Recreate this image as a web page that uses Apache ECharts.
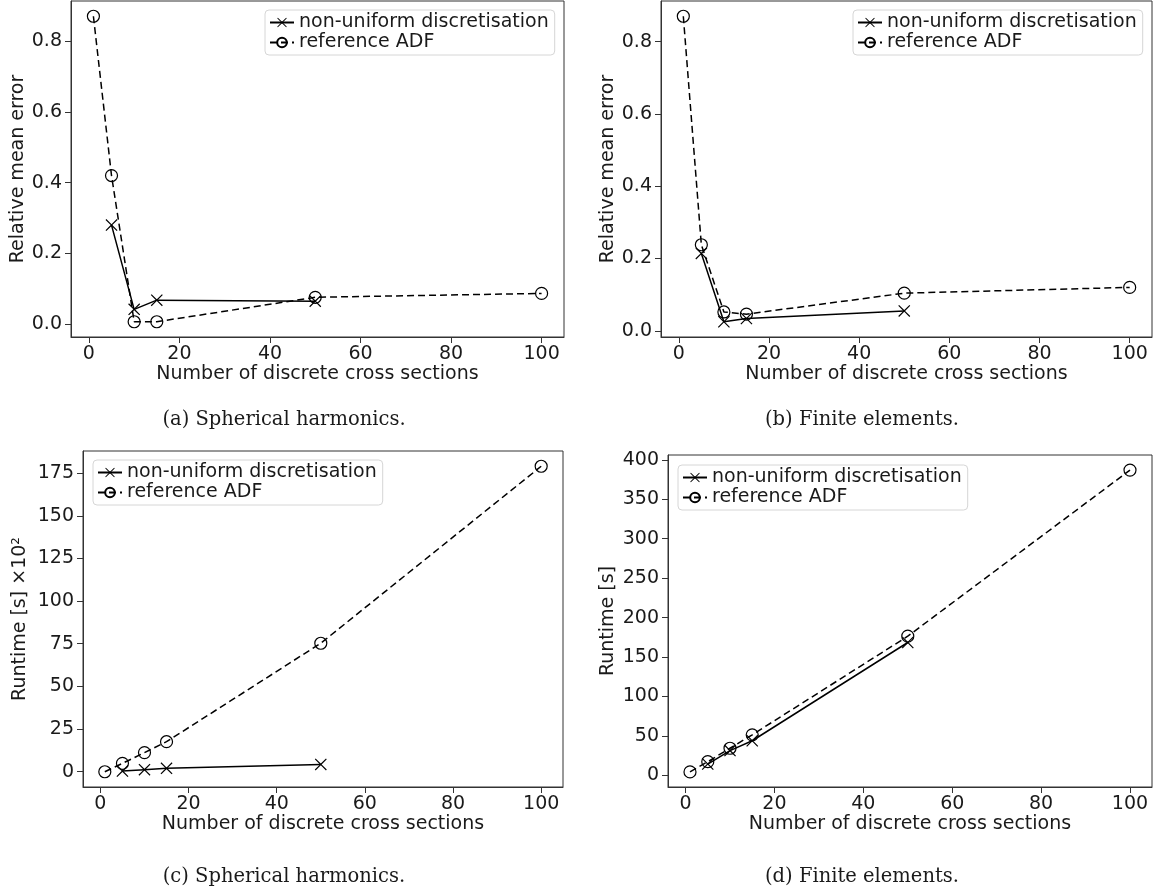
<!DOCTYPE html>
<html>
<head>
<meta charset="utf-8">
<script src="https://cdn.jsdelivr.net/npm/echarts@6/dist/echarts.min.js"></script>
<style>html,body{margin:0;padding:0;background:#fff;}#c{width:1156px;height:891px;}</style>
</head>
<body>
<div id="c"></div>
<script>
// ---- data ----
const xNonUniform = [5, 10, 15, 50];
const xReference = [1, 5, 10, 15, 50, 100];

const errShNonUniform = [0.28, 0.042, 0.068, 0.065];
const errShReference = [0.87, 0.42, 0.007, 0.007, 0.076, 0.087];

const errFeNonUniform = [0.214, 0.025, 0.034, 0.055];
const errFeReference = [0.87, 0.238, 0.052, 0.046, 0.104, 0.12];

const rtShNonUniform = [0.4, 1.2, 2.0, 4.3];
const rtShReference = [0.0, 4.9, 11.2, 17.6, 75.3, 179];

const rtFeNonUniform = [14.5, 31.5, 44, 168.5];
const rtFeReference = [4.5, 17.5, 34.5, 51.5, 176.5, 387];

const xTicks = [0, 20, 40, 60, 80, 100];
const errTicks = [0.0, 0.2, 0.4, 0.6, 0.8];
const rtShTicks = [0, 25, 50, 75, 100, 125, 150, 175];
const rtFeTicks = [0, 50, 100, 150, 200, 250, 300, 350, 400];

const seriesNames = ['non-uniform discretisation', 'reference ADF'];
const xAxisName = 'Number of discrete cross sections';
const captions = ['(a) Spherical harmonics.', '(b) Finite elements.', '(c) Spherical harmonics.', '(d) Finite elements.'];
const yNames = ['Relative mean error', 'Relative mean error', 'Runtime [s] ×10²', 'Runtime [s]'];

// ---- helpers ----
const FONT = 'DejaVu Sans';
const FS = 19;
const TXT = '#1a1a1a';
const FRAME = '#333';
const X_PATH = 'path://M0,7 L7,0 L50,43 L93,0 L100,7 L57,50 L100,93 L93,100 L50,57 L7,100 L0,93 L43,50 Z';

function pairs(xs, ys) { return xs.map((x, i) => [x, ys[i]]); }
function autoRange(arrs) {
  const all = [].concat(...arrs);
  const mn = Math.min(...all), mx = Math.max(...all);
  const m = (mx - mn) * 0.05;
  return [mn - m, mx + m];
}

const panels = [
  { grid: {left: 71, top: 1, width: 493, height: 336}, nu: errShNonUniform, ref: errShReference, ticks: errTicks, dec: 1, yGap: 43, legend: {left: 265, top: 10} },
  { grid: {left: 661, top: 1, width: 491, height: 336}, nu: errFeNonUniform, ref: errFeReference, ticks: errTicks, dec: 1, yGap: 43, legend: {left: 853, top: 10} },
  { grid: {left: 83, top: 451, width: 480, height: 336}, nu: rtShNonUniform, ref: rtShReference, ticks: rtShTicks, dec: 0, yGap: 53, legend: {left: 93, top: 460} },
  { grid: {left: 668, top: 455, width: 484, height: 332}, nu: rtFeNonUniform, ref: rtFeReference, ticks: rtFeTicks, dec: 0, yGap: 50, legend: {left: 678, top: 465} }
];

const xr = autoRange([xNonUniform, xReference]);
const option = { animation: false, backgroundColor: '#fff', grid: [], xAxis: [], yAxis: [], series: [], legend: [], graphic: [] };

panels.forEach((p, i) => {
  option.grid.push(Object.assign({ show: true, borderColor: FRAME, borderWidth: 1, backgroundColor: 'transparent', containLabel: false }, p.grid));
  option.xAxis.push({
    type: 'value', gridIndex: i, min: xr[0], max: xr[1],
    name: xAxisName, nameLocation: 'middle', nameGap: 27,
    nameTextStyle: { fontFamily: FONT, fontSize: FS, color: TXT },
    axisLine: { show: true, onZero: false, lineStyle: { color: FRAME, width: 1 } },
    axisTick: { show: true, inside: false, length: 6, customValues: xTicks, lineStyle: { color: FRAME } },
    axisLabel: { customValues: xTicks, margin: 8, fontFamily: FONT, fontSize: FS, color: TXT, formatter: v => String(Math.round(v)) },
    splitLine: { show: false }
  });
  const yr = autoRange([p.nu, p.ref]);
  option.yAxis.push({
    type: 'value', gridIndex: i, min: yr[0], max: yr[1],
    name: yNames[i], nameLocation: 'middle', nameGap: p.yGap, nameRotate: 90,
    nameTextStyle: { fontFamily: FONT, fontSize: FS, color: TXT },
    axisLine: { show: true, onZero: false, lineStyle: { color: FRAME, width: 1 } },
    axisTick: { show: true, inside: false, length: 6, customValues: p.ticks, lineStyle: { color: FRAME } },
    axisLabel: { customValues: p.ticks, margin: 9, fontFamily: FONT, fontSize: FS, color: TXT, formatter: v => v.toFixed(p.dec) },
    splitLine: { show: false }
  });
  option.series.push({
    name: seriesNames[0], type: 'line', xAxisIndex: i, yAxisIndex: i,
    data: pairs(xNonUniform, p.nu),
    symbol: X_PATH, symbolSize: 12, showAllSymbol: true,
    itemStyle: { color: '#000' },
    lineStyle: { color: '#000', width: 1.5, type: 'solid' }
  });
  option.series.push({
    name: seriesNames[1], type: 'line', xAxisIndex: i, yAxisIndex: i,
    data: pairs(xReference, p.ref),
    symbol: 'circle', symbolSize: 12, showAllSymbol: true,
    itemStyle: { color: 'rgba(0,0,0,0)', borderColor: '#000', borderWidth: 1.2 },
    lineStyle: { color: '#000', width: 1.5, type: [7, 4] }
  });
  option.legend.push({
    data: seriesNames, orient: 'vertical', left: p.legend.left, top: p.legend.top,
    itemWidth: 24, itemHeight: 12, itemGap: 1, itemTextGap: 10,
    padding: [3, 6, 3, 4], borderColor: '#d6d6d6', borderWidth: 1, borderRadius: 4,
    backgroundColor: 'rgba(255,255,255,0.8)',
    textStyle: { fontFamily: FONT, fontSize: FS, color: TXT, lineHeight: 17 },
    selectedMode: false
  });
});

const capPos = [[284, 420], [862, 420], [284, 877], [862, 877]];
captions.forEach((t, i) => {
  option.graphic.push({
    type: 'text', x: capPos[i][0], y: capPos[i][1],
    style: { text: t, font: '19.5px "DejaVu Serif"', fill: TXT, textAlign: 'center', textVerticalAlign: 'middle', align: 'center', verticalAlign: 'middle' }
  });
});

const chart = echarts.init(document.getElementById('c'), null, { renderer: 'canvas' });
chart.setOption(option);
</script>
</body>
</html>
